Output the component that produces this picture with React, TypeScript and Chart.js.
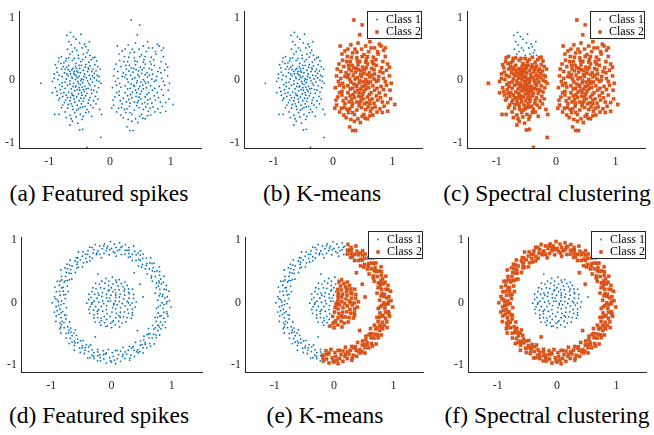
import React, { useEffect, useRef } from "react";
import { Chart, registerables } from "chart.js";

Chart.register(...registerables);

const FONT = '"Liberation Serif", "DejaVu Serif", serif';
const BLUE = "#0072BD";
const ORANGE = "#D95319";
const AXIS = "#262626";

const xTicks = [-1, 0, 1];
const yTicks = [-1, 0, 1];
const legendLabels = ["Class 1", "Class 2"];
const topCaptions = ["(a) Featured spikes", "(b) K-means", "(c) Spectral clustering"];
const bottomCaptions = ["(d) Featured spikes", "(e) K-means", "(f) Spectral clustering"];

// ---- Top row: two blobs (x, y pairs) ----
// upper part of the left blob (class 1 in spectral clustering)
const leftBlobTop = [
  -0.65, 0.77, -0.71, 0.72, -0.56, 0.66, -0.34, 0.62, -0.40, 0.54, -0.64, 0.57, -0.60, 0.70, -0.50, 0.60,
  -0.46, 0.52, -0.55, 0.48, -0.38, 0.44, -0.62, 0.46, -0.44, 0.42, -0.52, 0.40, -0.68, 0.62, -0.36, 0.48,
  -0.58, 0.52, -0.48, 0.74, -0.42, 0.58, -0.70, 0.50, -0.33, 0.40, -0.66, 0.42,
];

const leftBlobMain = [
  -0.80, 0.38, -0.28, 0.36, -0.72, 0.35,
  -0.85, 0.30, -0.76, 0.28, -0.62, 0.32, -0.48, 0.30, -0.35, 0.29, -0.22, 0.31, -0.56, 0.27, -0.68, 0.24, -0.40, 0.25,
  -0.88, 0.20, -0.80, 0.18, -0.71, 0.21, -0.63, 0.17, -0.57, 0.22, -0.50, 0.19, -0.44, 0.16, -0.36, 0.20, -0.28, 0.18,
  -0.20, 0.22, -0.66, 0.14, -0.53, 0.13, -0.47, 0.24, -0.60, 0.11,
  -0.92, 0.10, -0.84, 0.08, -0.75, 0.12, -0.69, 0.07, -0.58, 0.09, -0.51, 0.06, -0.42, 0.10, -0.34, 0.08, -0.26, 0.11,
  -0.18, 0.06, -0.62, 0.03, -0.55, 0.15, -0.47, 0.02, -0.39, 0.04, -0.72, 0.02, -0.30, 0.14,
  -0.95, -0.02, -0.86, 0.01, -0.79, -0.04, -0.66, -0.01, -0.60, -0.05, -0.53, -0.02, -0.45, -0.04, -0.37, -0.01,
  -0.29, -0.03, -0.22, 0.00, -0.15, -0.05, -0.70, -0.08, -0.56, -0.09, -0.49, -0.07, -0.41, -0.10, -0.33, -0.08, -1.14, -0.05,
  -0.90, -0.12, -0.82, -0.15, -0.74, -0.13, -0.64, -0.14, -0.58, -0.17, -0.51, -0.12, -0.44, -0.15, -0.36, -0.13,
  -0.27, -0.16, -0.19, -0.12, -0.68, -0.19, -0.47, -0.20, -0.30, -0.21,
  -0.87, -0.24, -0.78, -0.26, -0.70, -0.28, -0.62, -0.24, -0.55, -0.27, -0.48, -0.29, -0.40, -0.25, -0.33, -0.28,
  -0.24, -0.26, -0.66, -0.33, -0.58, -0.35, -0.44, -0.34, -0.36, -0.37, -0.75, -0.36,
  -0.80, -0.44, -0.70, -0.45, -0.62, -0.42, -0.52, -0.46, -0.45, -0.43, -0.38, -0.47, -0.28, -0.44, -0.17, -0.47,
  -0.58, -0.52, -0.49, -0.55, -0.66, -0.56, -0.40, -0.52,
  -0.91, -0.55, -0.84, -0.55, -0.72, -0.60, -0.64, -0.62, -0.56, -0.59, -0.46, -0.63, -0.14, -0.55, -0.30, -0.58,
  -0.66, -0.72, -0.50, -0.80, -0.45, -0.79, -0.15, -0.92, -0.38, -1.08,
  -0.61, 0.19, -0.54, 0.04, -0.48, -0.01, -0.57, -0.11, -0.63, -0.21, -0.52, -0.22, -0.42, -0.18, -0.76, -0.20,
  -0.85, -0.32, -0.32, 0.02, -0.25, -0.09, -0.74, 0.18, -0.90, 0.25,
  -0.81, 0.27, -0.73, 0.31, -0.59, 0.35, -0.45, 0.33, -0.31, 0.33, -0.25, 0.25, -0.77, 0.22, -0.69, 0.17,
  -0.55, 0.19, -0.41, 0.21, -0.33, 0.23, -0.23, 0.15, -0.87, 0.13, -0.79, 0.06, -0.65, 0.10, -0.49, 0.12,
  -0.37, 0.14, -0.21, 0.08, -0.83, -0.07, -0.74, -0.03, -0.63, 0.05, -0.57, 0.01, -0.43, 0.06, -0.35, -0.05,
  -0.26, 0.04, -0.18, -0.02, -0.88, -0.18, -0.79, -0.10, -0.72, -0.24, -0.61, -0.10, -0.54, -0.15, -0.46, -0.11,
  -0.38, -0.21, -0.31, -0.15, -0.22, -0.19, -0.83, -0.29, -0.73, -0.32, -0.65, -0.28, -0.59, -0.30, -0.51, -0.33,
  -0.43, -0.29, -0.35, -0.32, -0.27, -0.33, -0.78, -0.40, -0.69, -0.39, -0.61, -0.47, -0.54, -0.40, -0.47, -0.38,
  -0.41, -0.42, -0.32, -0.40, -0.23, -0.38, -0.74, -0.51, -0.55, -0.48, -0.44, -0.58, -0.35, -0.51, -0.62, -0.66,
  -0.53, -0.69, -0.92, 0.03, -0.95, -0.20, -0.20, -0.30, -0.16, 0.18, -0.84, 0.36, -0.25, 0.37, -0.68, 0.36,
  -0.52, 0.35, -0.40, 0.37,
  -0.59, 0.14, -0.51, 0.24, -0.44, 0.01, -0.66, -0.06, -0.52, -0.05, -0.60, -0.25, -0.46, -0.24, -0.39, -0.14,
  -0.71, 0.10, -0.35, 0.18, -0.50, -0.16, -0.56, 0.07, -0.64, -0.38, -0.49, -0.44, -0.29, 0.07, -0.81, -0.21,
];

const rightBlob = [
  0.35, 0.97, 0.49, 0.89, 0.45, 0.73,
  0.30, 0.57, 0.42, 0.60, 0.55, 0.55, 0.62, 0.62, 0.70, 0.52, 0.78, 0.58, 0.25, 0.50, 0.48, 0.50, 0.85, 0.48, 0.12, 0.55,
  0.15, 0.42, 0.24, 0.38, 0.33, 0.44, 0.40, 0.36, 0.52, 0.41, 0.60, 0.46, 0.68, 0.37, 0.76, 0.42, 0.88, 0.38, 0.56, 0.33,
  0.45, 0.30, 0.29, 0.30,
  0.10, 0.26, 0.18, 0.22, 0.26, 0.24, 0.35, 0.20, 0.42, 0.25, 0.50, 0.21, 0.58, 0.26, 0.65, 0.19, 0.73, 0.24, 0.82, 0.20,
  0.92, 0.26, 0.38, 0.13, 0.61, 0.12, 0.47, 0.15, 0.70, 0.10, 0.22, 0.12,
  0.06, 0.07, 0.13, 0.03, 0.20, 0.06, 0.28, 0.02, 0.34, 0.08, 0.41, 0.04, 0.48, 0.06, 0.55, 0.01, 0.62, 0.05, 0.69, 0.02,
  0.77, 0.06, 0.85, 0.03, 0.95, 0.07, 0.52, 0.11, 0.30, -0.03, 0.44, -0.04,
  0.04, -0.12, 0.11, -0.08, 0.18, -0.11, 0.25, -0.09, 0.33, -0.13, 0.40, -0.10, 0.47, -0.14, 0.54, -0.08, 0.60, -0.12,
  0.67, -0.09, 0.74, -0.13, 0.81, -0.10, 0.90, -0.08, 0.57, -0.02, 0.37, -0.19, 0.64, -0.20, 0.50, -0.22,
  0.08, -0.27, 0.15, -0.24, 0.22, -0.29, 0.29, -0.25, 0.36, -0.28, 0.43, -0.26, 0.51, -0.30, 0.58, -0.27, 0.66, -0.30,
  0.73, -0.25, 0.80, -0.28, 0.88, -0.24, 0.97, -0.30, 0.27, -0.35, 0.45, -0.36, 0.62, -0.38, 0.20, -0.38,
  0.06, -0.40, 0.14, -0.45, 0.24, -0.47, 0.32, -0.42, 0.40, -0.48, 0.48, -0.44, 0.55, -0.47, 0.63, -0.50, 0.71, -0.43,
  0.79, -0.46, 0.86, -0.42, 0.92, -0.50, 1.04, -0.39, 0.36, -0.55, 0.52, -0.55, 0.67, -0.56,
  0.22, -0.60, 0.30, -0.63, 0.42, -0.62, 0.58, -0.62, 0.46, -0.68, 0.28, -0.75, 0.33, -0.81, 0.38, -0.81,
  0.53, 0.17, 0.39, 0.19, 0.59, -0.05, 0.45, -0.01, 0.35, -0.06, 0.52, -0.18, 0.44, -0.20, 0.57, -0.36, 0.31, 0.15,
  0.66, 0.30, 0.78, -0.20, 0.15, -0.18, 0.84, 0.12, 0.26, -0.52,
  0.20, 0.47, 0.37, 0.50, 0.64, 0.52, 0.81, 0.55, 0.31, 0.37, 0.49, 0.38, 0.72, 0.33, 0.84, 0.30, 0.16, 0.32,
  0.27, 0.18, 0.43, 0.17, 0.56, 0.20, 0.68, 0.26, 0.79, 0.14, 0.90, 0.16, 0.13, 0.14, 0.24, 0.05, 0.37, 0.02,
  0.51, -0.03, 0.65, 0.08, 0.73, -0.02, 0.88, -0.02, 0.09, -0.02, 0.16, -0.05, 0.29, -0.14, 0.42, -0.16, 0.55, -0.14,
  0.70, -0.16, 0.85, -0.15, 0.96, -0.16, 0.11, -0.20, 0.25, -0.20, 0.34, -0.23, 0.48, -0.27, 0.61, -0.23, 0.75, -0.32,
  0.92, -0.36, 0.05, -0.32, 0.17, -0.33, 0.31, -0.31, 0.40, -0.35, 0.53, -0.38, 0.69, -0.37, 0.83, -0.35, 0.11, -0.51,
  0.19, -0.44, 0.28, -0.46, 0.44, -0.41, 0.59, -0.43, 0.74, -0.51, 0.83, -0.52, 0.33, -0.52, 0.49, -0.58, 0.62, -0.57,
  0.18, -0.56, 0.36, -0.66, 0.54, -0.61, 0.40, 0.45, 0.58, 0.38, 0.23, 0.30, 0.75, 0.46, 0.95, 0.21, 0.98, -0.05,
  0.07, 0.18, 0.88, 0.52, 0.66, -0.45, 0.03, -0.45,
  0.46, 0.09, 0.58, 0.09, 0.39, -0.08, 0.63, -0.03, 0.49, -0.10, 0.41, 0.31, 0.55, 0.29, 0.33, -0.37,
  0.69, 0.17, 0.26, 0.09, 0.47, -0.33, 0.62, -0.32, 0.76, 0.00, 0.32, 0.24,
];

// ---- Bottom row: ring and inner disk (angle in degrees, radius pairs) ----
const ringRight = [
  -103, 0.86, -101, 0.95, -100, 0.78, -98, 0.91, -97, 0.83, -95, 0.97, -94, 0.75, -92, 0.88, -91, 0.93, -89, 0.80,
  -88, 0.86, -86, 0.98, -85, 0.77, -84, 0.90, -82, 0.84, -81, 0.95, -79, 0.79, -78, 0.88, -76, 0.92, -75, 0.74,
  -73, 0.86, -72, 0.97, -70, 0.81, -69, 0.90, -67, 0.76, -66, 0.94, -64, 0.85, -63, 0.79, -61, 0.92, -60, 0.87,
  -58, 0.75, -57, 0.96, -55, 0.83, -54, 0.89, -52, 0.78, -51, 0.93, -49, 0.85, -48, 0.80, -46, 0.62, -46, 0.91,
  -45, 0.76, -43, 0.97, -42, 0.84, -40, 0.88, -39, 0.79, -37, 0.93, -36, 0.86, -34, 0.74, -33, 0.95, -31, 0.82,
  -30, 0.89, -28, 0.77, -27, 0.92, -25, 0.85, -24, 0.98, -22, 0.80, -21, 0.87, -19, 0.94, -18, 0.76, -16, 0.90,
  -15, 0.83, -13, 0.96, -12, 0.79, -10, 0.88, -9, 0.93, -7, 0.75, -6, 0.86, -4, 0.99, -3, 0.81, -1, 0.91,
  0, 0.84, 2, 0.96, 3, 0.77, 5, 0.89, 6, 0.93, 8, 0.80, 9, 0.86, 11, 0.97, 12, 0.74, 14, 0.90,
  15, 0.83, 17, 0.95, 18, 0.78, 20, 0.88, 21, 0.92, 23, 0.81, 24, 0.86, 26, 0.97, 27, 0.76, 29, 0.91,
  30, 0.84, 32, 0.56, 32, 0.94, 33, 0.79, 35, 0.87, 36, 0.98, 38, 0.75, 39, 0.89, 41, 0.83, 42, 0.95,
  44, 0.78, 45, 0.90, 47, 0.86, 48, 0.97, 50, 0.80, 51, 0.92, 52, 0.61, 53, 0.74, 54, 0.88, 56, 0.94,
  57, 0.83, 59, 0.79, 60, 0.96, 62, 0.87, 63, 0.76, 65, 0.91, 66, 0.85, 68, 0.98, 69, 0.78, 71, 0.89,
  72, 0.93, 74, 0.81, 75, 0.87, 76, 0.96,
  -99, 0.84, -87, 0.92, -74, 0.82, -62, 0.89, -50, 0.87, -38, 0.81, -26, 0.88, -14, 0.85, -2, 0.87, 10, 0.82,
  22, 0.85, 34, 0.91, 46, 0.83, 58, 0.90, 70, 0.84,
  -102, 0.90, -96, 0.81, -90, 0.95, -83, 0.77, -77, 0.85, -71, 0.94, -65, 0.80, -59, 0.91, -53, 0.84, -47, 0.95,
  -41, 0.78, -35, 0.90, -29, 0.83, -23, 0.92, -17, 0.80, -11, 0.94, -5, 0.78, 1, 0.92, 7, 0.85, 13, 0.93,
  19, 0.82, 25, 0.90, 31, 0.77, 37, 0.85, 43, 0.92, 49, 0.76, 55, 0.83, 61, 0.91, 67, 0.80, 73, 0.88,
];

const ringLeft = [
  78, 0.79, 79, 0.92, 81, 0.86, 82, 0.97, 84, 0.75, 85, 0.89, 87, 0.94, 88, 0.82, 90, 0.87, 91, 0.98,
  93, 0.77, 94, 0.91, 96, 0.84, 97, 0.95, 99, 0.80, 100, 0.88, 102, 0.93, 103, 0.74, 105, 0.86, 106, 0.97,
  108, 0.81, 109, 0.90, 111, 0.85, 112, 0.96, 114, 0.78, 115, 0.92, 117, 0.87, 118, 0.76, 120, 0.94, 121, 0.83,
  123, 0.89, 124, 0.98, 126, 0.79, 127, 0.86, 129, 0.93, 130, 0.75, 132, 0.90, 133, 0.84, 135, 0.97, 136, 0.80,
  138, 0.88, 139, 0.92, 141, 0.77, 142, 0.86, 144, 0.95, 145, 0.82, 147, 0.89, 148, 0.99, 150, 0.76, 151, 0.87,
  153, 0.93, 154, 0.81, 156, 0.90, 157, 0.85, 159, 0.96, 160, 0.78, 162, 0.91, 163, 0.84, 165, 0.97, 166, 0.74,
  168, 0.88, 169, 0.93, 171, 0.80, 172, 0.86, 174, 0.95, 175, 0.77, 177, 0.90, 178, 0.83, 180, 0.98, 181, 0.79,
  183, 0.88, 184, 0.92, 186, 0.75, 187, 0.86, 189, 0.96, 190, 0.82, 192, 0.89, 193, 0.94, 195, 0.78, 196, 0.87,
  198, 0.97, 199, 0.80, 201, 0.91, 202, 0.85, 204, 0.76, 205, 0.93, 207, 0.88, 208, 0.82, 210, 0.97, 211, 0.79,
  213, 0.90, 214, 0.86, 216, 0.74, 217, 0.94, 219, 0.84, 220, 0.89, 222, 0.78, 223, 0.96, 225, 0.87, 226, 0.81,
  228, 0.92, 229, 0.85, 231, 0.98, 232, 0.77, 234, 0.90, 235, 0.84, 237, 0.95, 238, 0.79, 240, 0.88, 241, 0.93,
  243, 0.76, 244, 0.61, 244, 0.87, 246, 0.97, 247, 0.82, 249, 0.90, 250, 0.85, 252, 0.94, 253, 0.78, 255, 0.88,
  256, 0.96,
  83, 0.84, 95, 0.88, 107, 0.83, 119, 0.89, 131, 0.86, 143, 0.91, 155, 0.84, 167, 0.82, 179, 0.88, 191, 0.85,
  203, 0.90, 215, 0.82, 227, 0.88, 239, 0.84, 251, 0.91,
  80, 0.90, 86, 0.80, 92, 0.85, 98, 0.92, 104, 0.80, 110, 0.94, 116, 0.82, 122, 0.77, 128, 0.91, 134, 0.79,
  140, 0.96, 146, 0.85, 152, 0.79, 158, 0.92, 164, 0.86, 170, 0.77, 176, 0.93, 182, 0.84, 188, 0.91, 194, 0.80,
  200, 0.87, 206, 0.95, 212, 0.83, 218, 0.79, 224, 0.91, 230, 0.80, 236, 0.87, 242, 0.80, 248, 0.95, 254, 0.82,
];

const diskRight = [
  -100, 0.38, -96, 0.22, -93, 0.33, -90, 0.40, -87, 0.15, -84, 0.29, -80, 0.36, -77, 0.08, -74, 0.25, -71, 0.41,
  -68, 0.32, -65, 0.19, -62, 0.37, -58, 0.27, -55, 0.12, -52, 0.39, -49, 0.30, -46, 0.21, -43, 0.35, -40, 0.05,
  -37, 0.41, -34, 0.26, -31, 0.33, -28, 0.17, -25, 0.38, -22, 0.29, -19, 0.10, -16, 0.36, -13, 0.23, -10, 0.40,
  -7, 0.31, -4, 0.18, -1, 0.34, 2, 0.41, 5, 0.26, 8, 0.13, 10, 0.53, 11, 0.37, 14, 0.30, 17, 0.21,
  20, 0.39, 23, 0.07, 26, 0.33, 29, 0.25, 32, 0.41, 35, 0.16, 38, 0.36, 41, 0.28, 44, 0.20, 47, 0.38,
  50, 0.11, 53, 0.32, 56, 0.40, 59, 0.24, 62, 0.35, 65, 0.17, 68, 0.29, 71, 0.39, 74, 0.22, 76, 0.34,
  -88, 0.31, -60, 0.24, -30, 0.40, 0, 0.28, 30, 0.33, 60, 0.14, -15, 0.04, 45, 0.31,
];

const diskLeft = [
  79, 0.37, 82, 0.18, 85, 0.30, 88, 0.41, 91, 0.24, 94, 0.12, 97, 0.35, 100, 0.28, 103, 0.40, 106, 0.20,
  109, 0.33, 112, 0.08, 115, 0.38, 116, 0.51, 118, 0.26, 121, 0.16, 124, 0.36, 127, 0.30, 130, 0.41, 133, 0.22,
  136, 0.11, 139, 0.34, 142, 0.39, 145, 0.27, 148, 0.19, 151, 0.37, 154, 0.31, 157, 0.06, 160, 0.40, 163, 0.25,
  166, 0.35, 169, 0.15, 172, 0.38, 175, 0.29, 178, 0.21, 181, 0.41, 184, 0.33, 187, 0.13, 190, 0.36, 193, 0.27,
  196, 0.39, 199, 0.18, 202, 0.32, 205, 0.40, 208, 0.24, 211, 0.09, 214, 0.35, 217, 0.29, 220, 0.38, 223, 0.20,
  226, 0.33, 229, 0.41, 232, 0.14, 235, 0.30, 238, 0.37, 241, 0.25, 244, 0.40, 247, 0.19, 250, 0.34, 253, 0.28,
  256, 0.39, 120, 0.03, 150, 0.24, 180, 0.32, 210, 0.27, 240, 0.33, 100, 0.21,
];

type P = { x: number; y: number };

const toXY = (flat: number[]): P[] => {
  const out: P[] = [];
  for (let i = 0; i < flat.length; i += 2) out.push({ x: flat[i], y: flat[i + 1] });
  return out;
};

const fromPolar = (flat: number[]): P[] => {
  const out: P[] = [];
  for (let i = 0; i < flat.length; i += 2) {
    const a = (flat[i] * Math.PI) / 180;
    const r = flat[i + 1];
    out.push({ x: r * Math.cos(a), y: r * Math.sin(a) });
  }
  return out;
};

const LT = toXY(leftBlobTop);
const LM = toXY(leftBlobMain);
const RB = toXY(rightBlob);
const RR = fromPolar(ringRight);
const RL = fromPolar(ringLeft);
const DR = fromPolar(diskRight);
const DL = fromPolar(diskLeft);

interface PanelSpec {
  left: number;
  top: number;
  width: number;
  height: number;
  yWidth: number;
  padTop: number;
  yMin: number;
  yMax: number;
  class1: P[];
  class2: P[];
  legend: boolean;
  legendDy: number;
}

const TOP_H = 170;
const BOT_H = 168;

const panels: PanelSpec[] = [
  { left: 0, top: 0, width: 205, height: TOP_H, yWidth: 19, padTop: 5, yMin: -1.09, yMax: 1.11, class1: [...LT, ...LM, ...RB], class2: [], legend: false, legendDy: 0 },
  { left: 220, top: 0, width: 208, height: TOP_H, yWidth: 24, padTop: 5, yMin: -1.09, yMax: 1.11, class1: [...LT, ...LM], class2: RB, legend: true, legendDy: 0 },
  { left: 443, top: 0, width: 208, height: TOP_H, yWidth: 24, padTop: 5, yMin: -1.09, yMax: 1.11, class1: LT, class2: [...LM, ...RB], legend: true, legendDy: 0 },
  { left: 0, top: 226, width: 206, height: BOT_H, yWidth: 21, padTop: 7, yMin: -1.11, yMax: 1.05, class1: [...RL, ...RR, ...DL, ...DR], class2: [], legend: false, legendDy: -6 },
  { left: 221, top: 226, width: 208, height: BOT_H, yWidth: 24, padTop: 7, yMin: -1.11, yMax: 1.05, class1: [...RL, ...DL], class2: [...RR, ...DR], legend: true, legendDy: -6 },
  { left: 444, top: 226, width: 208, height: BOT_H, yWidth: 24, padTop: 7, yMin: -1.11, yMax: 1.05, class1: [...DL, ...DR], class2: [...RL, ...RR], legend: true, legendDy: -6 },
];

function ScatterPanel({ spec }: { spec: PanelSpec }) {
  const ref = useRef<HTMLCanvasElement>(null);

  useEffect(() => {
    if (!ref.current) return;
    const legendPlugin = {
      id: "boxLegend",
      afterDraw(chart: any) {
        if (!spec.legend) return;
        const { ctx, chartArea } = chart;
        const w = 55;
        const h = 28;
        const x0 = Math.round(chartArea.right - w);
        const y0 = Math.round(chartArea.top + spec.legendDy);
        ctx.save();
        ctx.fillStyle = "#ffffff";
        ctx.fillRect(x0, y0, w, h);
        ctx.strokeStyle = AXIS;
        ctx.lineWidth = 1;
        ctx.strokeRect(x0 + 0.5, y0 + 0.5, w - 1, h - 1);
        ctx.fillStyle = BLUE;
        ctx.beginPath();
        ctx.arc(x0 + 10, y0 + 8.5, 0.9, 0, Math.PI * 2);
        ctx.fill();
        ctx.strokeStyle = ORANGE;
        ctx.lineWidth = 1.8;
        const cx = x0 + 10;
        const cy = y0 + 21;
        const s = 1.5;
        ctx.beginPath();
        ctx.moveTo(cx - s, cy - s);
        ctx.lineTo(cx + s, cy + s);
        ctx.moveTo(cx + s, cy - s);
        ctx.lineTo(cx - s, cy + s);
        ctx.stroke();
        ctx.fillStyle = "#000000";
        ctx.font = `12px ${FONT}`;
        ctx.textBaseline = "middle";
        ctx.textAlign = "left";
        ctx.fillText(legendLabels[0], x0 + 19, y0 + 8.5);
        ctx.fillText(legendLabels[1], x0 + 19, y0 + 21);
        ctx.restore();
      },
    };

    const chart = new Chart(ref.current, {
      type: "scatter",
      data: {
        datasets: [
          {
            label: legendLabels[0],
            data: spec.class1,
            pointStyle: "circle",
            pointRadius: 0.9,
            pointBackgroundColor: BLUE,
            pointBorderWidth: 0,
            backgroundColor: BLUE,
            borderWidth: 0,
            order: 1,
          },
          {
            label: legendLabels[1],
            data: spec.class2,
            pointStyle: "crossRot",
            pointRadius: 2.2,
            pointBorderColor: ORANGE,
            pointBorderWidth: 1.9,
            borderColor: ORANGE,
            backgroundColor: ORANGE,
            order: 0,
          },
        ],
      },
      options: {
        animation: false,
        responsive: false,
        maintainAspectRatio: false,
        events: [],
        layout: { padding: { top: spec.padTop, right: 3, left: 0, bottom: 0 } },
        plugins: { legend: { display: false }, tooltip: { enabled: false } },
        scales: {
          x: {
            type: "linear",
            min: -1.5,
            max: 1.5,
            afterBuildTicks: (s: any) => {
              s.ticks = xTicks.map((v) => ({ value: v }));
            },
            afterFit: (s: any) => {
              s.height = 22;
            },
            grid: { display: false, drawTicks: false },
            border: { display: true, color: AXIS, width: 1 },
            ticks: {
              padding: 7,
              color: AXIS,
              font: { family: FONT, size: 12 },
              maxRotation: 0,
              callback: (v: any) => String(v),
            },
          },
          y: {
            type: "linear",
            min: spec.yMin,
            max: spec.yMax,
            afterBuildTicks: (s: any) => {
              s.ticks = yTicks.map((v) => ({ value: v }));
            },
            afterFit: (s: any) => {
              s.width = spec.yWidth;
            },
            grid: { display: false, drawTicks: false },
            border: { display: true, color: AXIS, width: 1 },
            ticks: {
              padding: 4,
              color: AXIS,
              font: { family: FONT, size: 12 },
              callback: (v: any) => String(v),
            },
          },
        },
      },
      plugins: [legendPlugin],
    } as any);

    return () => chart.destroy();
  }, [spec]);

  return (
    <canvas
      ref={ref}
      width={spec.width}
      height={spec.height}
      style={{ position: "absolute", left: spec.left, top: spec.top, width: spec.width, height: spec.height }}
    />
  );
}

const captionStyle = (center: number, top: number): React.CSSProperties => ({
  position: "absolute",
  left: center - 150,
  top,
  width: 300,
  textAlign: "center",
  fontFamily: FONT,
  fontSize: 23.5,
  lineHeight: "28px",
  color: "#000",
  whiteSpace: "nowrap",
});

const topCenters = [99, 322, 547];
const bottomCenters = [99, 325, 547];

export default function App() {
  return (
    <div
      style={{
        position: "absolute",
        left: 0,
        top: 0,
        width: 654,
        height: 435,
        background: "#ffffff",
        overflow: "hidden",
      }}
    >
      {panels.map((p, i) => (
        <ScatterPanel key={i} spec={p} />
      ))}
      {topCaptions.map((c, i) => (
        <div key={"t" + i} style={captionStyle(topCenters[i], 179)}>
          {c}
        </div>
      ))}
      {bottomCaptions.map((c, i) => (
        <div key={"b" + i} style={captionStyle(bottomCenters[i], 401)}>
          {c}
        </div>
      ))}
    </div>
  );
}
